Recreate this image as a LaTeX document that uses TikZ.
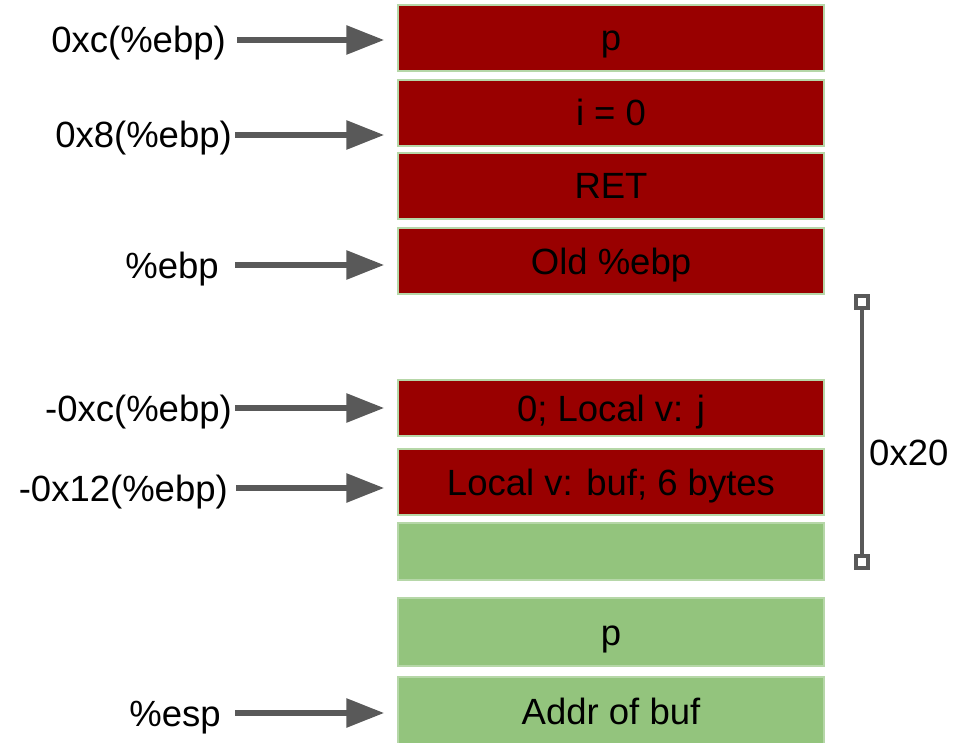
\documentclass[tikz,border=0pt]{standalone}
\usepackage{fontspec}
\setmainfont{Liberation Sans}
\usetikzlibrary{arrows.meta}
\definecolor{boxred}{HTML}{990000}
\definecolor{boxgreen}{HTML}{93C47D}
\definecolor{edgegreen}{HTML}{B6D7A8}
\definecolor{arrgray}{HTML}{595959}
\begin{document}
\begin{tikzpicture}[x=1pt,y=-1pt, font=\fontsize{36.5}{43}\selectfont,
  cell/.style={draw=edgegreen, line width=1.5pt, minimum width=426pt, text height=26pt, text depth=0pt, inner sep=0pt},
  redcell/.style={cell, fill=boxred},
  greencell/.style={cell, fill=boxgreen},
  lab/.style={anchor=east, text height=26pt, text depth=0pt, inner sep=0pt},
  arr/.style={draw=arrgray, line width=6pt, -{Triangle[length=38pt,width=28pt]}, shorten >=13pt},
  endsq/.style={draw=arrgray, line width=3.5pt, fill=white, minimum size=12pt, inner sep=0pt}]
\useasboundingbox (0,0) rectangle (955,743);
% stack cells
\node[redcell, minimum height=66pt] (b1) at (611,38) {p};
\node[redcell, minimum height=66pt] (b2) at (611,113) {i = 0};
\node[redcell, minimum height=66pt] (b3) at (611,186) {RET};
\node[redcell, minimum height=66pt] (b4) at (611,261) {Old \%ebp};
\node[redcell, minimum height=56pt] (b5) at (611,408) {0; Local v: j};
\node[redcell, minimum height=66pt] (b6) at (611,482) {Local v: buf; 6 bytes};
\node[greencell, minimum height=57pt] (b7) at (611,551.5) {};
\node[greencell, minimum height=68pt] (b8) at (611,632) {p};
\node[greencell, minimum height=68pt] (b9) at (611,711) {Addr of buf};
% labels
\node[lab] (l1) at (226,40) {0xc(\%ebp)};
\node[lab] (l2) at (232,135) {0x8(\%ebp)};
\node[lab] (l4) at (219,265) {\%ebp};
\node[lab] (l5) at (232,408) {-0xc(\%ebp)};
\node[lab] (l6) at (228,488) {-0x12(\%ebp)};
\node[lab] (l9) at (221,713) {\%esp};
% arrows
\draw[arr] ([xshift=11pt]l1.east) -- (b1.west |- l1.east);
\draw[arr] ([xshift=3pt]l2.east) -- (b2.west |- l2.east);
\draw[arr] ([xshift=16pt]l4.east) -- (b4.west |- l4.east);
\draw[arr] ([xshift=3pt]l5.east) -- (b5.west |- l5.east);
\draw[arr] ([xshift=8pt]l6.east) -- (b6.west |- l6.east);
\draw[arr] ([xshift=14pt]l9.east) -- (b9.west |- l9.east);
% size bracket
\node[endsq] (top) at (862,302) {};
\node[endsq] (bot) at (862,562) {};
\draw[arrgray, line width=4pt] (top.south) -- (bot.north);
\node[lab, anchor=west] (size) at (869,452) {0x20};
\end{tikzpicture}
\end{document}
